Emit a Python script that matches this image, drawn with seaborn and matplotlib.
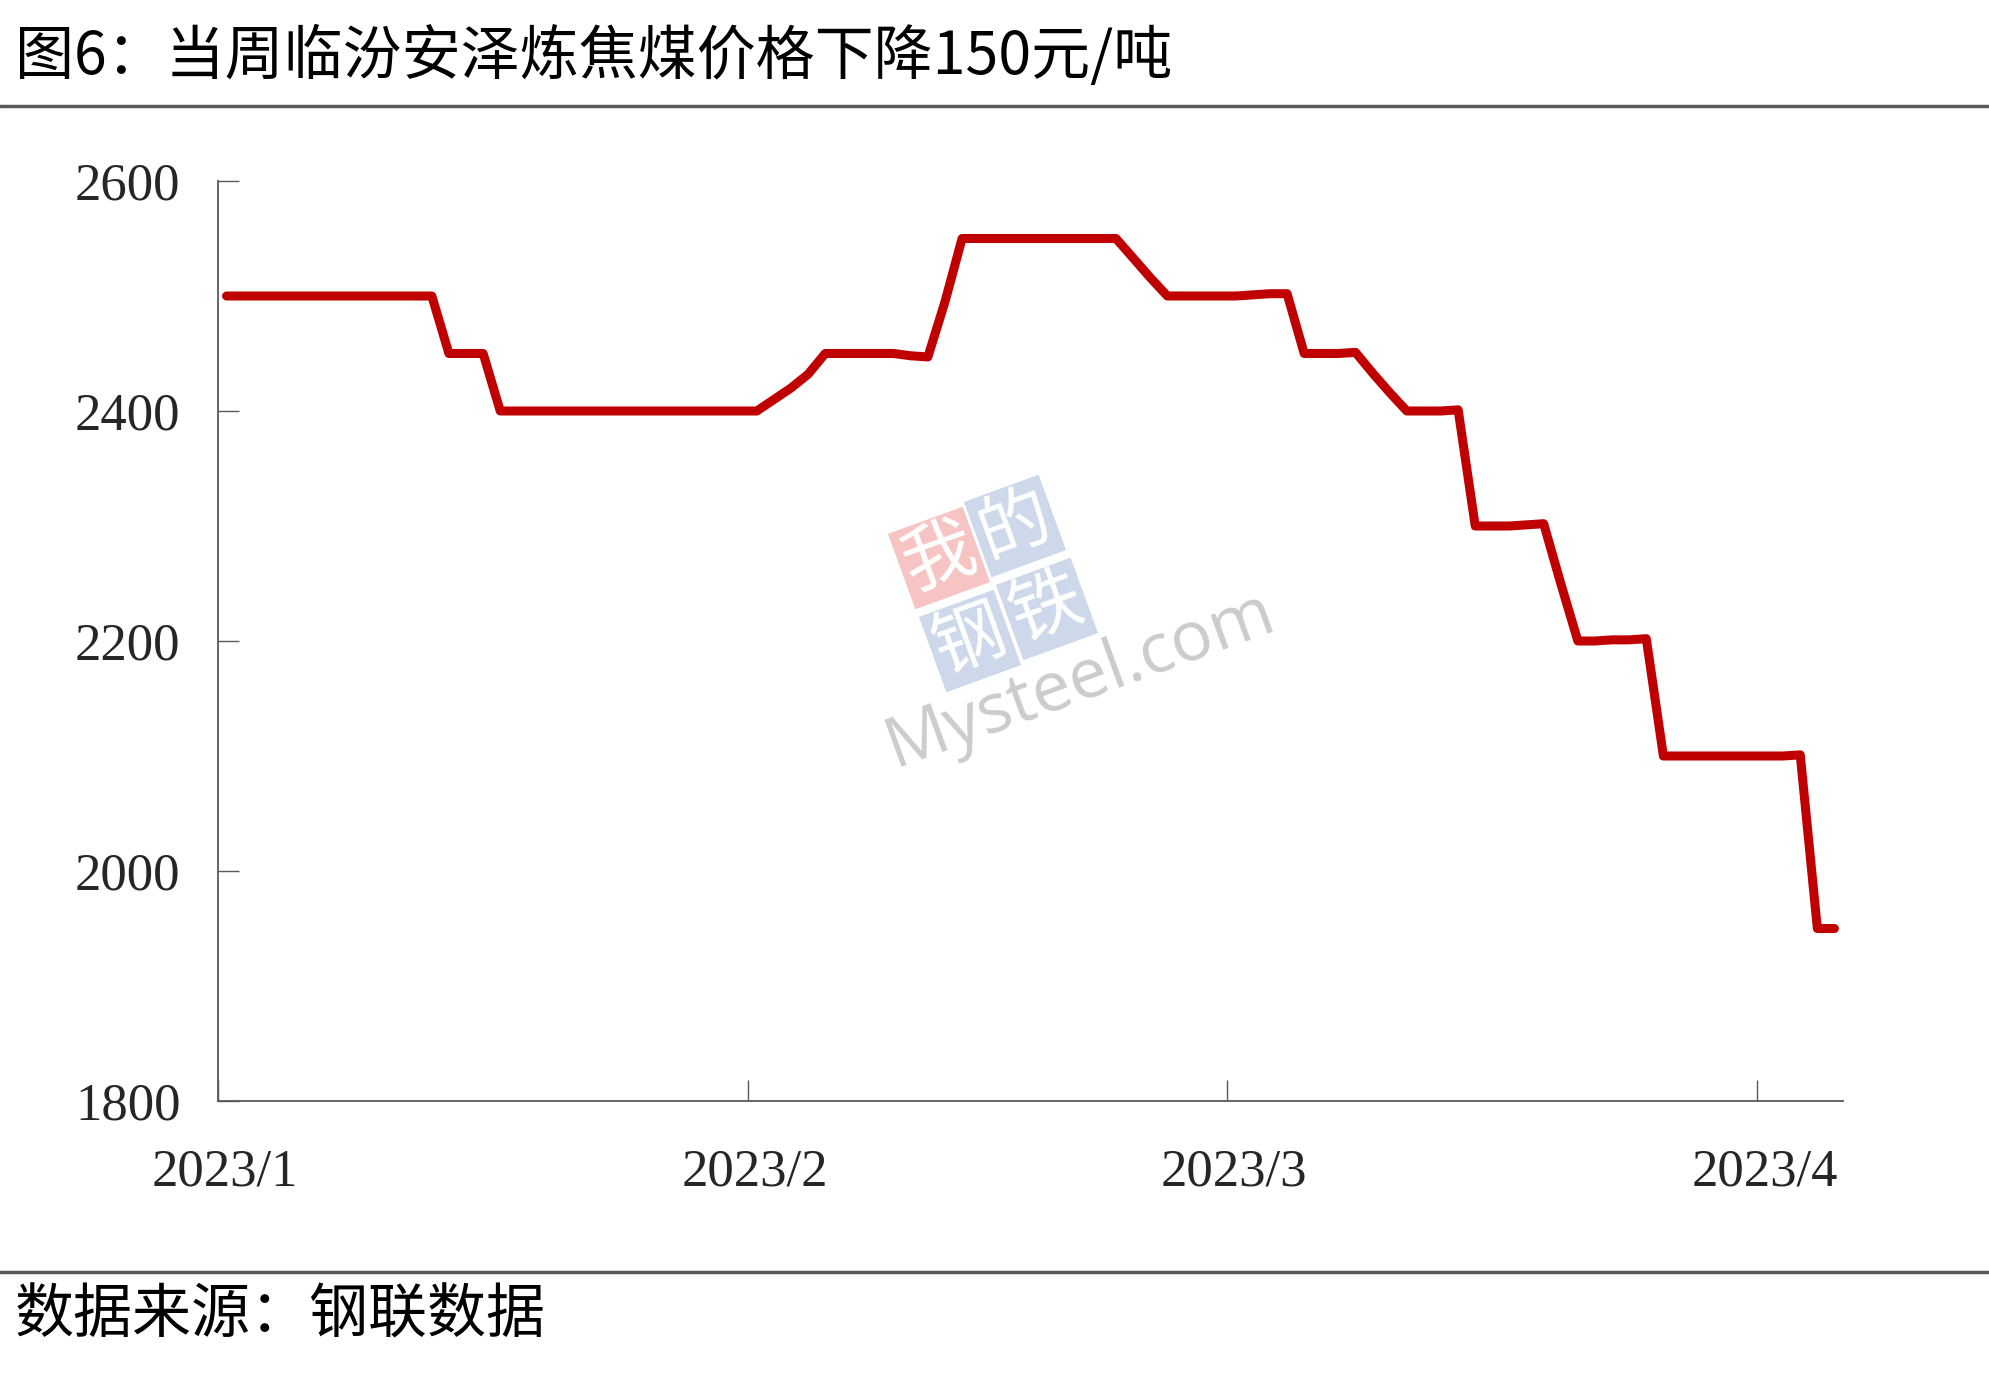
import pandas as pd
import matplotlib
matplotlib.use("Agg")
import matplotlib.pyplot as plt
import matplotlib.transforms as mtransforms
from matplotlib.lines import Line2D
import seaborn as sns

# daily price, 2023-01-01 .. 2023-04-05 (元/吨)
dates = pd.date_range("2023-01-01", "2023-04-05", freq="D")
price = [
    2500, 2500, 2500, 2500, 2500, 2500, 2500, 2500, 2500, 2500,
    2500, 2500, 2500, 2450, 2450, 2450, 2400, 2400, 2400, 2400,
    2400, 2400, 2400, 2400, 2400, 2400, 2400, 2400, 2400, 2400,
    2400, 2400, 2410, 2420, 2432, 2450, 2450, 2450, 2450, 2450,
    2448, 2447, 2495, 2550, 2550, 2550, 2550, 2550, 2550, 2550,
    2550, 2550, 2550, 2533, 2516, 2500, 2500, 2500, 2500, 2500,
    2501, 2502, 2502, 2450, 2450, 2450, 2451, 2433, 2416, 2400,
    2400, 2400, 2401, 2300, 2300, 2300, 2301, 2302, 2250, 2200,
    2200, 2201, 2201, 2202, 2100, 2100, 2100, 2100, 2100, 2100,
    2100, 2100, 2101, 1950, 1950,
]
tick_dates = ["2023-01-01", "2023-02-01", "2023-03-01", "2023-04-01"]
tick_labels = ["2023/1", "2023/2", "2023/3", "2023/4"]
y_ticks = [1800, 2000, 2200, 2400, 2600]

title = "图6：当周临汾安泽炼焦煤价格下降150元/吨"
source = "数据来源：钢联数据"

sns.set_style("white")
plt.rcParams["font.family"] = ["Liberation Serif", "Noto Sans CJK SC", "DejaVu Sans"]

W, H = 1989, 1379
fig = plt.figure(figsize=(W / 100, H / 100), dpi=100)
ax = fig.add_axes([218 / W, 1 - 1101 / H, (1843 - 218) / W, (1101 - 181) / H])

# points sit in the middle of each day slot
df = pd.DataFrame({"date": dates + pd.Timedelta(hours=12), "price": price})
sns.lineplot(data=df, x="date", y="price", ax=ax, color="#C00000",
             linewidth=6.5, solid_capstyle="round", solid_joinstyle="round")

ax.set_xlim(pd.Timestamp("2023-01-01"), pd.Timestamp("2023-04-06"))
ax.set_ylim(1800, 2600)
ax.set_yticks(y_ticks)
ax.set_yticklabels([str(v) for v in y_ticks])
ax.set_xticks(pd.to_datetime(tick_dates))
ax.set_xticklabels(tick_labels)
ax.set_xlabel("")
ax.set_ylabel("")

axis_grey = "#595959"
for side in ["top", "right"]:
    ax.spines[side].set_visible(False)
for side in ["left", "bottom"]:
    ax.spines[side].set_color(axis_grey)
    ax.spines[side].set_linewidth(1.3)
ax.tick_params(axis="both", direction="in", length=15, width=1.0,
               color=axis_grey, labelsize=38, labelcolor="#262626",
               bottom=True, left=True)
ax.tick_params(axis="y", pad=27)
ax.tick_params(axis="x", pad=34)

offset = mtransforms.ScaledTranslation(7 / 100, 0, fig.dpi_scale_trans)
for lab in ax.get_xticklabels():
    lab.set_transform(lab.get_transform() + offset)

# header / footer
fig.text(15 / W, 1 - 57 / H, title, fontsize=42.5, va="center", ha="left",
         family=["Noto Sans CJK SC", "DejaVu Sans"], color="black")
fig.add_artist(Line2D([0, 1], [1 - 106 / H] * 2, transform=fig.transFigure,
                      color=axis_grey, linewidth=2.5))
fig.add_artist(Line2D([0, 1], [1 - 1272 / H] * 2, transform=fig.transFigure,
                      color=axis_grey, linewidth=2.5))
fig.text(15 / W, 1 - 1316 / H, source, fontsize=42.5, va="center", ha="left",
         family=["Noto Sans CJK SC", "DejaVu Sans"], color="black")

# faint watermark
logo = [("我", 939, 558, "#f7c4c4"), ("的", 1015, 526, "#cdd8ea"),
        ("钢", 970, 641, "#cdd8ea"), ("铁", 1047, 609, "#cdd8ea")]
for ch, px, py, fc in logo:
    fig.text(px / W, 1 - py / H, ch, fontsize=52, color="white", rotation=20,
             ha="center", va="center", family=["Noto Sans CJK SC"],
             bbox=dict(boxstyle="square,pad=0.05", fc=fc, ec="none"))
fig.text(1080 / W, 1 - 680 / H, "Mysteel.com", fontsize=50, color="#cccccc",
         rotation=20, ha="center", va="center", family=["Open Sans"])

fig.savefig("out.png", dpi=100)
plt.close(fig)
